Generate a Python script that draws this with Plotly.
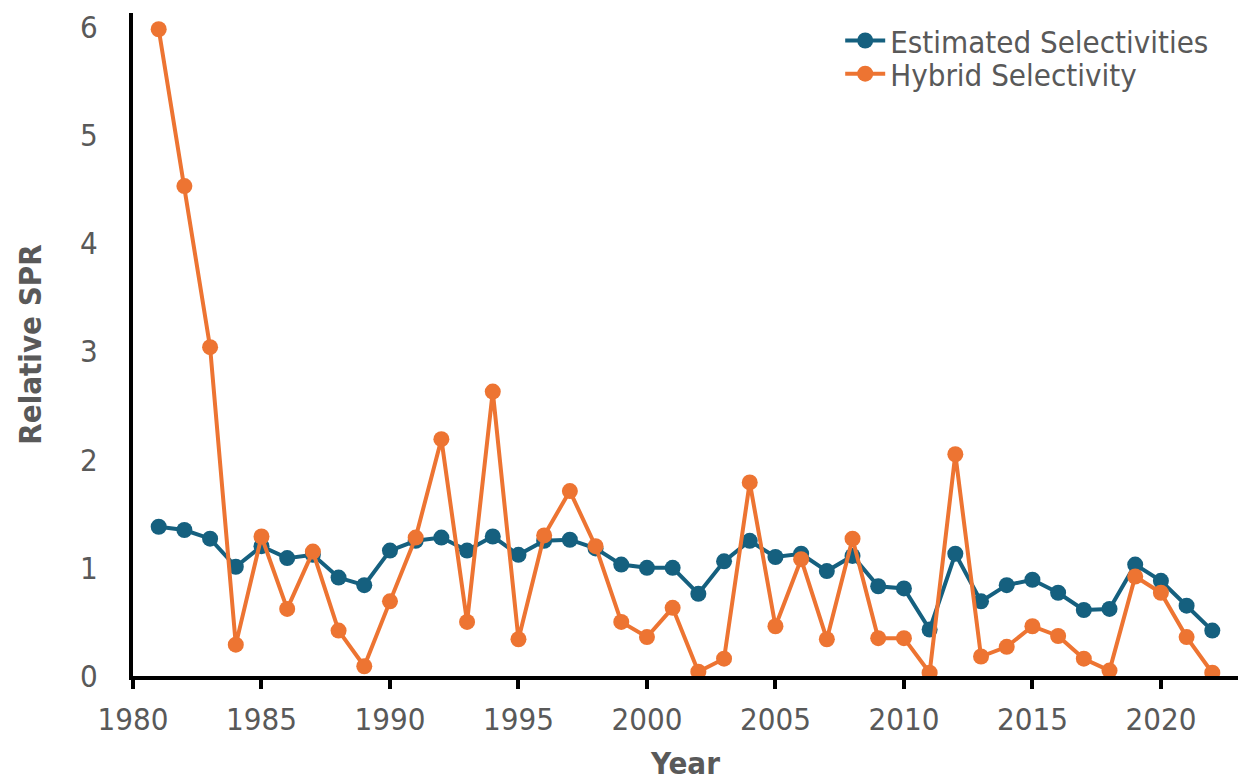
import plotly.graph_objects as go

years = list(range(1981, 2023))
estimated = [1.38, 1.35, 1.27, 1.01, 1.20, 1.09, 1.12, 0.91, 0.84, 1.16,
             1.25, 1.28, 1.16, 1.29, 1.12, 1.25, 1.26, 1.18, 1.03, 1.00,
             1.00, 0.76, 1.06, 1.25, 1.10, 1.13, 0.97, 1.11, 0.83, 0.81,
             0.43, 1.13, 0.69, 0.84, 0.89, 0.77, 0.61, 0.62, 1.03, 0.88,
             0.65, 0.42]
hybrid = [5.98, 4.53, 3.04, 0.29, 1.29, 0.62, 1.15, 0.42, 0.09, 0.69,
          1.28, 2.19, 0.50, 2.63, 0.34, 1.30, 1.71, 1.20, 0.50, 0.36,
          0.63, 0.04, 0.16, 1.79, 0.46, 1.08, 0.34, 1.27, 0.35, 0.35,
          0.03, 2.05, 0.18, 0.27, 0.46, 0.37, 0.16, 0.05, 0.92, 0.77,
          0.36, 0.03]
x_ticks = [1980, 1985, 1990, 1995, 2000, 2005, 2010, 2015, 2020]
y_ticks = [0, 1, 2, 3, 4, 5, 6]

FONT = "DejaVu Sans Condensed, DejaVu Sans, sans-serif"
GRAY = "#595959"
BLUE = "#15607F"
ORANGE = "#ED7432"
FS = 31

fig = go.Figure()
fig.add_trace(go.Scatter(x=years, y=estimated, mode="lines+markers",
                         name="Estimated Selectivities", legend="legend",
                         line=dict(color=BLUE, width=4),
                         marker=dict(color=BLUE, size=16)))
fig.add_trace(go.Scatter(x=years, y=hybrid, mode="lines+markers",
                         name="Hybrid Selectivity", legend="legend2",
                         line=dict(color=ORANGE, width=4),
                         marker=dict(color=ORANGE, size=16)))

leg_common = dict(xanchor="left", yanchor="middle", bgcolor="rgba(0,0,0,0)",
                  font=dict(size=FS, color=GRAY), itemwidth=40)

fig.update_layout(
    width=1243, height=781,
    showlegend=True,
    margin=dict(l=133, r=5, t=13, b=105),
    paper_bgcolor="white", plot_bgcolor="white",
    font=dict(family=FONT, color=GRAY, size=FS),
    legend=dict(x=0.64, y=0.958, **leg_common),
    legend2=dict(x=0.64, y=0.908, **leg_common),
    xaxis=dict(range=[1980, 2023], tickvals=x_ticks, showgrid=False,
               zeroline=False, showline=True, linecolor="black", linewidth=4,
               ticks="outside", ticklen=9, tickwidth=4, tickcolor="black",
               ticklabelstandoff=4, automargin=False,
               tickfont=dict(size=FS, color=GRAY),
               title=dict(text="<b>Year</b>", font=dict(size=FS, color=GRAY),
                          standoff=18)),
    yaxis=dict(range=[0, 6.13], tickvals=y_ticks, showgrid=False,
               zeroline=False, showline=True, linecolor="black", linewidth=4,
               ticks="", ticklabelstandoff=25, automargin=False,
               tickfont=dict(size=FS, color=GRAY),
               title=dict(text="<b>Relative SPR</b>", font=dict(size=FS, color=GRAY),
                          standoff=30)),
)

fig.write_html("out.html", config={"displayModeBar": False},
               post_script="document.body.style.margin='0px';")
